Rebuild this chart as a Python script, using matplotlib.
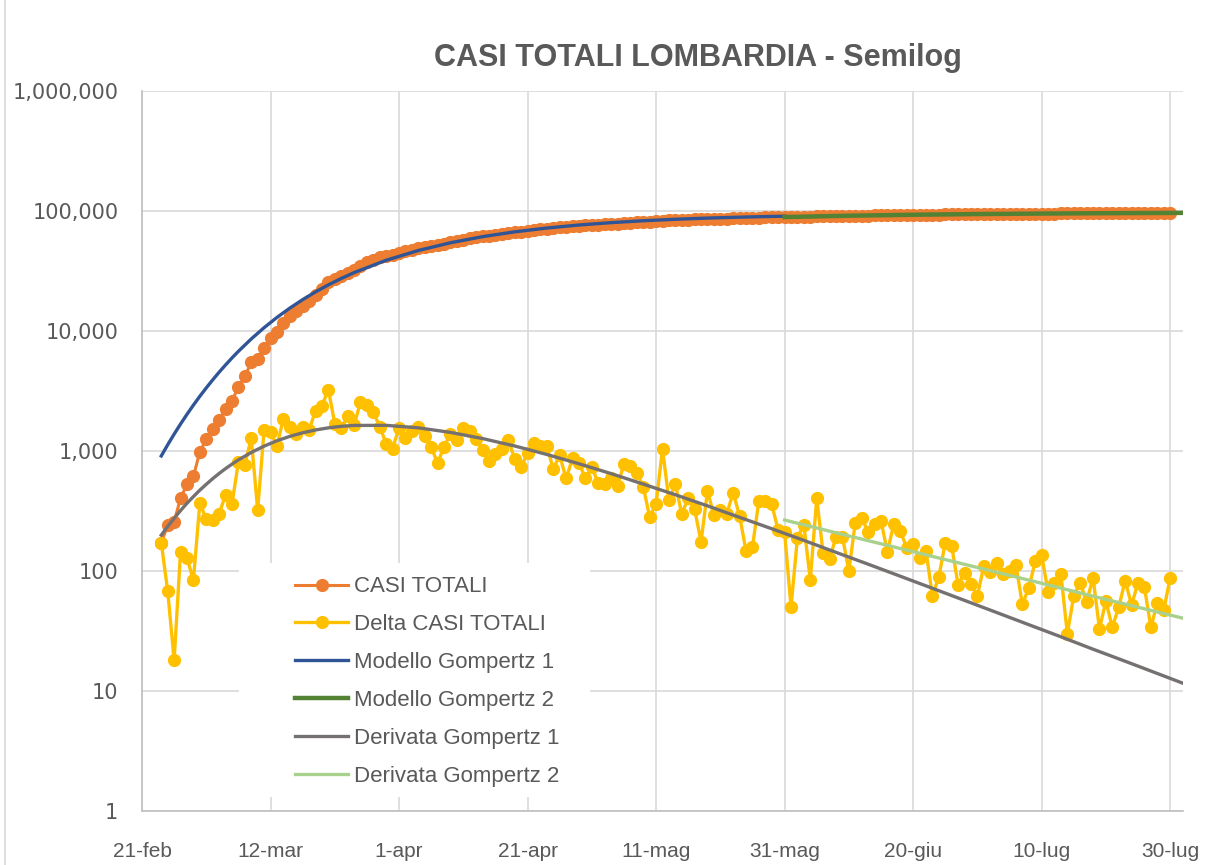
import numpy as np
import pandas as pd
import matplotlib
matplotlib.use('Agg')
import matplotlib.pyplot as plt
from matplotlib.patches import Rectangle
from matplotlib.lines import Line2D
from matplotlib.ticker import FuncFormatter, FixedLocator

# daily data, Lombardia, from 24-feb-2020 to 30-jul-2020
delta_casi = [
    172, 68, 18, 145, 128, 84,
    369, 270, 266, 300, 431, 361, 808, 769, 1280, 322, 1489, 1445, 1095, 1865,
    1587, 1377, 1571, 1493, 2171, 2380, 3251, 1691, 1555, 1942, 1643, 2543,
    2409, 2117, 1592, 1154, 1047,
    1565, 1292, 1455, 1598, 1337, 1079, 791, 1089, 1388, 1246, 1544, 1460,
    1262, 1012, 827, 941, 1041, 1246, 855, 740, 960, 1161, 1091, 1091, 710,
    920, 590, 869, 788, 598,
    737, 538, 528, 590, 510, 779, 750, 660, 504, 283, 362, 1040, 390, 528,
    299, 404, 327, 175, 464, 293, 322, 300, 449, 287, 147, 159, 385, 385,
    359, 220, 210,
    50, 190, 242, 84, 404, 140, 125, 193, 193, 100, 253, 275, 213, 246, 261,
    145, 246, 217, 156, 168, 128, 148, 62, 89, 172, 161, 77, 97, 78, 62,
    110, 99, 116, 95, 100, 112, 53, 72, 120, 136, 67, 79, 94, 30, 62, 80,
    55, 88, 33, 56, 34, 50, 83, 52, 80, 73, 34, 54, 47, 88,
]
casi_totali = [
    172, 240, 258, 403, 531, 615,
    984, 1254, 1520, 1820, 2251, 2612, 3420, 4189, 5469, 5791, 7280, 8725,
    9820, 11685, 13272, 14649, 16220, 17713, 19884, 22264, 25515, 27206,
    28761, 30703, 32346, 34889, 37298, 39415, 41007, 42161, 43208,
    44773, 46065, 47520, 49118, 50455, 51534, 52325, 53414, 54802, 56048,
    57592, 59052, 60314, 61326, 62153, 63094, 64135, 65381, 66236, 66976,
    67936, 69097, 70188, 71279, 71989, 72909, 73499, 74368, 75156, 75754,
    76491, 77029, 77557, 78147, 78657, 79436, 80186, 80846, 81350, 81633,
    81995, 83035, 83425, 83953, 84252, 84656, 84983, 85158, 85622, 85915,
    86237, 86537, 86986, 87273, 87420, 87579, 87964, 88349, 88708, 88928,
    89138,
    89188, 89378, 89620, 89704, 90108, 90248, 90373, 90566, 90759, 90859,
    91112, 91387, 91600, 91846, 92107, 92252, 92498, 92715, 92871, 93039,
    93167, 93315, 93377, 93466, 93638, 93799, 93876, 93973, 94051, 94113,
    94223, 94322, 94438, 94533, 94633, 94745, 94798, 94870, 94990, 95126,
    95193, 95272, 95366, 95396, 95458, 95538, 95593, 95681, 95714, 95770,
    95804, 95854, 95937, 95989, 96069, 96142, 96176, 96230, 96277, 96365,
]
dates = pd.date_range('2020-02-24', periods=len(casi_totali), freq='D')

# model curves; sample days counted from 24-feb
gomp1_days = [0, 1, 2, 3, 4, 5, 6, 7, 8, 9, 10, 11, 12, 14, 16, 18, 20, 22,
              24, 26, 28, 30, 35, 40, 45, 50, 55, 60, 65, 70, 75, 80, 85, 90,
              95, 97]
gomp1_vals = [910, 1127, 1382, 1679, 2022, 2413, 2858, 3357, 3915, 4535, 5216,
              5961, 6772, 8585, 10657, 12972, 15512, 18257, 21175, 24234,
              27404, 30647, 38864, 46869, 54362, 61118, 67040, 72116, 76429,
              79988, 82945, 85326, 87274, 88842, 90102, 90529]
deriv1_days = [0, 1, 2, 3, 4, 5, 6, 7, 8, 9, 10, 11, 12, 14, 16, 18, 20, 22,
               24, 26, 28, 30, 35, 40, 45, 50, 55, 60, 65, 70, 75, 80, 85, 90,
               95, 100, 105, 110, 115, 120, 125, 130, 135, 140, 145, 150, 155,
               159]
deriv1_vals = [199, 235, 275, 319, 367, 417, 472, 528, 588, 650, 713, 777, 843,
               972, 1098, 1217, 1324, 1418, 1497, 1559, 1605, 1633, 1636, 1560,
               1429, 1270, 1101, 936, 783, 648, 530, 432, 349, 280, 225, 180,
               143, 114, 90.5, 71.8, 56.9, 45.1, 35.7, 28.3, 22.3, 17.7, 14.0,
               11.6]
gomp2_dates = pd.to_datetime(['2020-05-31', '2020-06-10', '2020-06-20', '2020-06-30',
                              '2020-07-10', '2020-07-20', '2020-08-01'])
gomp2_vals = [89050, 91343, 93037, 94285, 95206, 95886, 96470]
deriv2_vals = [266, 196, 145, 107, 79, 58, 40.4]

tick_dates = pd.date_range('2020-02-21', periods=9, freq='20D')
tick_labels = ['21-feb', '12-mar', '1-apr', '21-apr', '11-mag', '31-mag',
               '20-giu', '10-lug', '30-lug']

day0 = pd.Timestamp('2020-02-24')
gomp1_dates = day0 + pd.to_timedelta(gomp1_days, unit='D')
deriv1_dates = day0 + pd.to_timedelta(deriv1_days, unit='D')

txt = '#595959'
plt.rcParams['font.family'] = ['Liberation Sans', 'DejaVu Sans']

fig = plt.figure(figsize=(12.21, 8.65), dpi=100)
ax = fig.add_axes([142 / 1221, 1 - 811 / 865, (1183 - 142) / 1221, (811 - 91) / 865])

ax.plot(dates, casi_totali, color='#ED7D31', lw=2.2, marker='o', ms=8.5,
        label='CASI TOTALI', zorder=3)
ax.plot(dates, delta_casi, color='#FFC000', lw=2.4, marker='o', ms=8.5,
        label='Delta CASI TOTALI', zorder=4)
ax.plot(gomp1_dates, gomp1_vals, color='#2F5597', lw=2.4,
        label='Modello Gompertz 1', zorder=5)
ax.plot(gomp2_dates, gomp2_vals, color='#548235', lw=3.2,
        label='Modello Gompertz 2', zorder=6)
ax.plot(deriv1_dates, deriv1_vals, color='#767171', lw=2.4,
        label='Derivata Gompertz 1', zorder=7)
ax.plot(gomp2_dates, deriv2_vals, color='#A9D18E', lw=2.4,
        label='Derivata Gompertz 2', zorder=8)

ax.set_yscale('log')
ax.set_ylim(1, 1e6)
ax.set_xlim(pd.Timestamp('2020-02-21'), pd.Timestamp('2020-08-01'))
ax.xaxis.set_major_locator(FixedLocator(matplotlib.dates.date2num(tick_dates)))
ax.set_xticklabels(tick_labels)
ax.yaxis.set_major_locator(FixedLocator([1, 10, 100, 1000, 1e4, 1e5, 1e6]))
ax.yaxis.set_minor_locator(FixedLocator([]))
ax.yaxis.set_major_formatter(FuncFormatter(lambda v, p: f'{v:,.0f}'))

ax.set_axisbelow(True)
ax.grid(True, color='#D9D9D9', lw=1.2)
for s in ['top', 'right']:
    ax.spines[s].set_visible(False)
for s in ['left', 'bottom']:
    ax.spines[s].set_color('#BFBFBF')
    ax.spines[s].set_linewidth(1.2)
ax.tick_params(axis='both', length=0, colors=txt)
ax.tick_params(axis='x', labelsize=15, pad=22)
ax.tick_params(axis='y', pad=17)
for lab in ax.get_yticklabels():
    lab.set_fontfamily('DejaVu Sans')
    lab.set_fontsize(15)

# white box behind the legend
ax.add_patch(Rectangle((0.0932, 0.0194), 0.3372, 0.325, transform=ax.transAxes,
                       facecolor='white', edgecolor='none', zorder=1))
leg = ax.legend(loc='upper left', bbox_to_anchor=(0.147, 0.326), frameon=False,
                fontsize=16, handlelength=2.4, handletextpad=0.25,
                labelspacing=0.76, borderpad=0, borderaxespad=0, numpoints=1)
for t in leg.get_texts():
    t.set_color(txt)

fig.text(698 / 1221, 1 - 66 / 865, 'CASI TOTALI LOMBARDIA - Semilog', ha='center',
         va='baseline', fontsize=22, fontweight='bold', color=txt)
fig.add_artist(Line2D([5 / 1221, 5 / 1221], [0, 1], transform=fig.transFigure,
                      color='#D9D9D9', lw=1.2))

fig.savefig('out.png', dpi=100)
